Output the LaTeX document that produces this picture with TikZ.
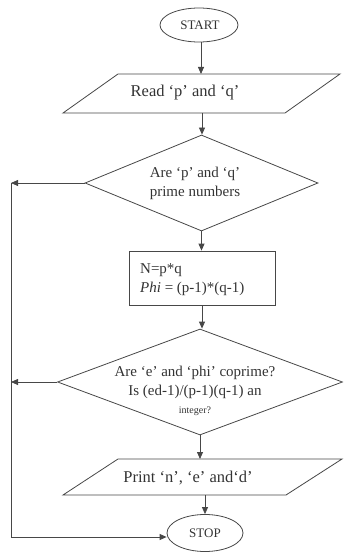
\documentclass[tikz,border=0pt]{standalone}
\usepackage{fontspec}
\setmainfont{Liberation Serif}
\usetikzlibrary{shapes.geometric,arrows.meta}

\tikzset{
  line/.style={draw=black!72, line width=0.8pt},
  arr/.style={line, -{Triangle[length=7pt,width=6pt]}},
  terminal/.style={line, ellipse, inner sep=0pt},
  decision/.style={line, diamond, inner sep=0pt},
  process/.style={line, rectangle, inner sep=0pt},
  txt/.style={text=black!80, inner sep=0pt, align=center},
  big/.style={font=\fontsize{16.5}{20}\selectfont},
  mid/.style={font=\fontsize{15}{19}\selectfont},
  term/.style={font=\fontsize{13}{15}\selectfont},
}

\begin{document}
\begin{tikzpicture}[x=1pt,y=-1pt]
  \useasboundingbox (0,0) rectangle (343,553);

  % terminals
  \node[terminal, minimum width=78pt, minimum height=34pt] (start) at (199,25) {};
  \node[txt, term] (starttxt) at (200,25) {START};
  \node[terminal, minimum width=76pt, minimum height=37pt] (stop) at (205,533) {};
  \node[txt, term] (stoptxt) at (205,533) {STOP};

  % input / output parallelograms
  \draw[line] (63,113) -- (118,74) -- (340,74) -- (285,113) -- cycle;
  \coordinate (read-n) at (201,74);
  \coordinate (read-s) at (202,113);
  \node[txt, big] (readtxt) at (185,93) {Read ‘p’ and ‘q’};

  \draw[line] (63,495) -- (118,459) -- (342,459) -- (286,495) -- cycle;
  \coordinate (print-n) at (202,459);
  \coordinate (print-s) at (202,495);
  \node[txt, big] (printtxt) at (188,478) {Print ‘n’, ‘e’ and‘d’};

  % decisions
  \node[decision, minimum width=233pt, minimum height=96pt] (d1) at (201.5,183) {};
  \node[txt, mid] (d1txt) at (195,183) {Are ‘p’ and ‘q’\\prime numbers};

  \node[decision, minimum width=285pt, minimum height=106pt] (d2) at (200,382) {};
  \node[txt, mid, anchor=north] (d2txt) at (195,366)
    {Are ‘e’ and ‘phi’ coprime?\\Is (ed-1)/(p-1)(q-1) an\\[-1pt]{\fontsize{10}{12}\selectfont integer?}};

  % process
  \node[process, minimum width=146pt, minimum height=54pt] (calc) at (202,278) {};
  \node[txt, mid, align=left, anchor=west] (calctxt) at (140,280)
    {N=p*q\\\textit{Phi} = (p-1)*(q-1)};

  % main flow
  \draw[arr] (start.south -| read-n) -- (read-n);
  \draw[arr] (read-s) -- (read-s |- d1.north);
  \draw[arr] (d1.south) -- (d1.south |- calc.north);
  \draw[arr] (calc.south) -- (calc.south |- d2.north);
  \draw[arr] (d2.south) -- (d2.south |- print-n);
  \draw[arr] (print-s -| stop.north) -- (stop.north);

  % rejection loop on the left
  \coordinate (lx) at (11,183);
  \draw[arr] (d1.west) -- (d1.west -| lx);
  \draw[arr] (d2.west) -- (d2.west -| lx);
  \draw[arr] (d1.west -| lx) -- ([yshift=-4pt]stop.west -| lx) -- ([yshift=-4pt]stop.west);
\end{tikzpicture}
\end{document}
